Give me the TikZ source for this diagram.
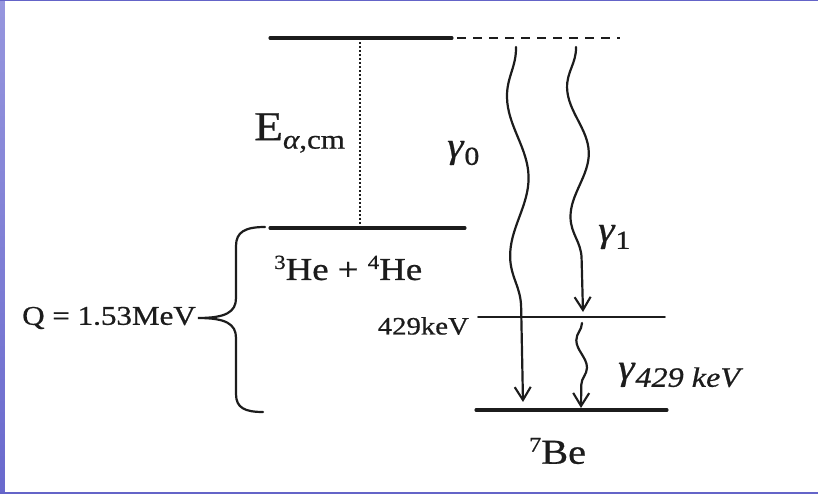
\documentclass[tikz,border=0pt]{standalone}
\usepackage{fontspec}
\setmainfont{Liberation Serif}
\newfontfamily\labfont{Liberation Serif}[FakeStretch=1.15,FakeBold=0.7]
\usetikzlibrary{decorations.pathmorphing,arrows.meta}
\definecolor{ink}{RGB}{28,28,28}
\definecolor{frametop}{RGB}{150,150,222}
\definecolor{framebot}{RGB}{105,105,205}
\definecolor{framecol}{RGB}{100,100,200}
\newcommand\lowsub[2]{\raisebox{-0.45ex}{\fontsize{#1}{#1}\selectfont #2}}
\newcommand\highsup[2]{\raisebox{0.75ex}{\fontsize{#1}{#1}\selectfont #2}}
\begin{document}
\begin{tikzpicture}[x=1pt,y=-1pt,line cap=round,
  level/.style={draw=ink,line width=3.1pt},
  thinlevel/.style={draw=ink,line width=1.8pt},
  photon/.style={draw=ink,line width=2.2pt,decorate,-{Straight Barb[length=13pt,width=16pt,line width=2.1pt]}},
  lab/.style={text=ink,inner sep=0pt}]
\useasboundingbox (0,0) rectangle (818,494);
\fill[white] (0,0) rectangle (818,494);
\shade[top color=frametop,bottom color=framebot] (0,0) rectangle (4.5,494);
\fill[framecol] (0,0) rectangle (818,1.5);
\fill[framecol] (0,491.5) rectangle (818,494);
% levels
\coordinate (topL) at (270,38);
\coordinate (topM) at (452,38);
\coordinate (dashS) at (457,38);
\coordinate (topR) at (620,38);
\coordinate (midL) at (270,228);
\coordinate (midR) at (465,228);
\coordinate (dotT) at (360,38);
\coordinate (dotB) at (360,228);
\coordinate (lvlL) at (478,317);
\coordinate (lvlR) at (665,317);
\coordinate (gndL) at (476,410);
\coordinate (gndR) at (667,410);
\draw[level] (topL) -- (topM);
\draw[draw=ink,line width=2.9pt,line cap=butt,dash pattern=on 9pt off 7pt] (dashS) -- (topR);
\draw[draw=ink,line width=1.3pt,line cap=butt,dash pattern=on 1.6pt off 2.4pt] (dotT) -- (dotB);
\draw[level] (midL) -- (midR);
\draw[thinlevel] (lvlL) -- (lvlR);
\draw[level] (gndL) -- (gndR);
% brace
\coordinate (brTop) at (265,227);
\coordinate (brTip) at (198,318);
\coordinate (brBot) at (263,412);
\draw[draw=ink,line width=2.2pt] (brTop) .. controls (245,227) and (236,232) .. (236,246) -- (236,298)
  .. controls (236,312) and (226,318) .. (brTip)
  .. controls (226,318) and (236,324) .. (236,338) -- (236,394)
  .. controls (236,408) and (245,412) .. (brBot);
% photons
\coordinate (g0s) at (516,47);
\coordinate (g0e) at (523,402);
\coordinate (g1s) at (576,47);
\coordinate (g1e) at (583,312);
\coordinate (g2s) at (582,323);
\coordinate (g2e) at (581,408);
\draw[photon,decoration={snake,mirror,segment length=160,amplitude=10,post length=16}] (g0s) -- (g0e);
\draw[photon,decoration={snake,mirror,segment length=130,amplitude=10,post length=16}] (g1s) -- (g1e);
\draw[photon,decoration={snake,mirror,segment length=55,amplitude=5.5,post length=15}] (g2s) -- (g2e);
% labels
\node[lab,font=\labfont\fontsize{41}{41}\selectfont,anchor=west] (E) at (254,133) {E\lowsub{27}{\textit{α},cm}};
\node[lab,font=\labfont\fontsize{36}{36}\selectfont,anchor=west] (g0) at (447,153) {\textit{γ}\lowsub{26}{0}};
\node[lab,font=\labfont\fontsize{36}{36}\selectfont,anchor=west] (g1) at (598,237) {\textit{γ}\lowsub{26}{1}};
\node[lab,font=\labfont\fontsize{32}{32}\selectfont,anchor=west] (he) at (274,268) {\highsup{20}{3}He + \highsup{20}{4}He};
\node[lab,font=\labfont\fontsize{27}{27}\selectfont,anchor=east] (Q) at (196,318) {Q = 1.53MeV};
\node[lab,font=\labfont\fontsize{25}{25}\selectfont,anchor=east] (kev) at (469,326) {429keV};
\node[lab,font=\labfont\fontsize{36}{36}\selectfont,anchor=west] (g2) at (618,375) {\textit{γ}\lowsub{28}{\textit{429 keV}}};
\node[lab,font=\labfont\fontsize{35}{35}\selectfont,anchor=west] (be) at (529,451) {\highsup{21}{7}Be};
\end{tikzpicture}
\end{document}
